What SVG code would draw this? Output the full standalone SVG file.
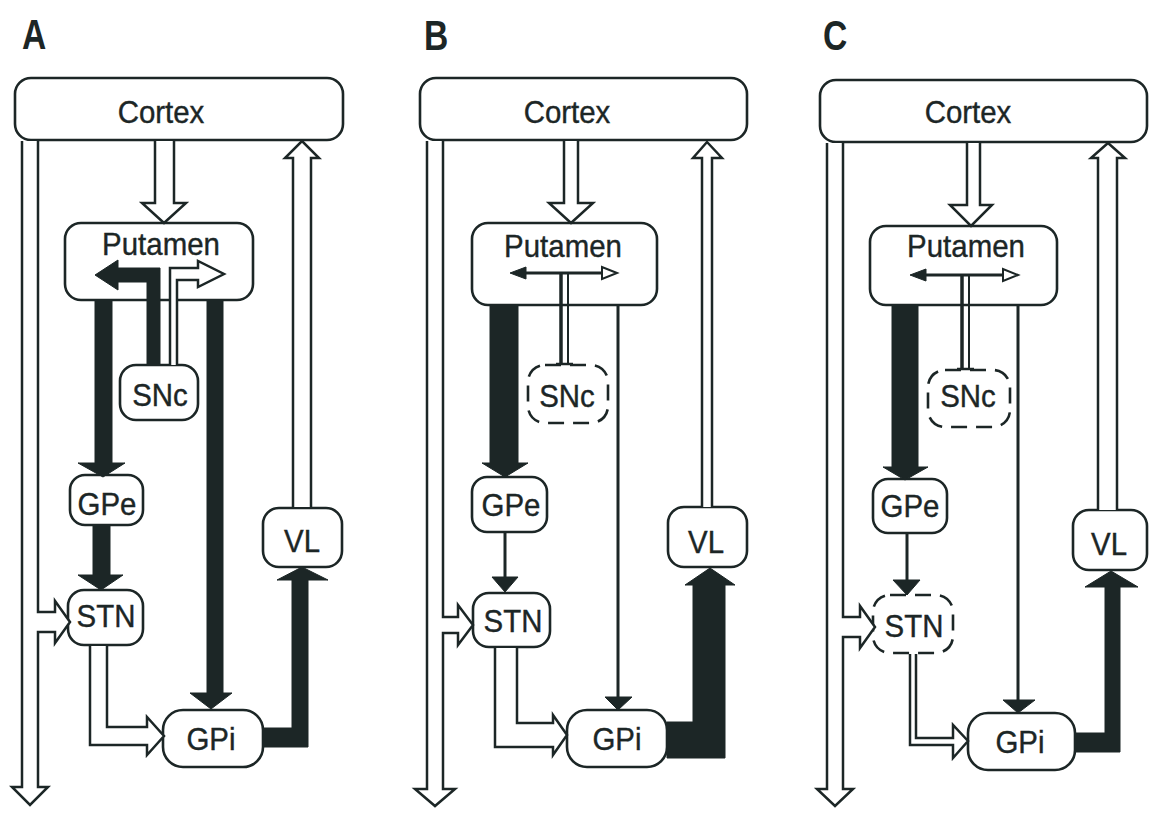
<svg xmlns="http://www.w3.org/2000/svg" width="1150" height="815" viewBox="0 0 1150 815">
<style>
.bg{fill:#fff}
.box{fill:#fff;stroke:#1c2626;stroke-width:2.6}
.dash{stroke-dasharray:16 9}
.lbl{font-family:"Liberation Sans",Arial,sans-serif;font-size:32px;fill:#1c2626;text-anchor:middle;stroke:#1c2626;stroke-width:0.4}
.pl{font-family:"Liberation Sans",Arial,sans-serif;font-size:42px;font-weight:bold;fill:#1c2626}
.hol{fill:#fff;stroke:#1c2626;stroke-width:2.5;stroke-linejoin:miter}
.sol{fill:#1c2626;stroke:#1c2626;stroke-width:1}
.thin{stroke:#1c2626;stroke-width:3;fill:none}
.th2{stroke:#1c2626;stroke-width:2;fill:none}
.hh{fill:#fff;stroke:#1c2626;stroke-width:2}
</style>
<rect class="bg" x="0" y="0" width="1150" height="815"/>
<g id="panel-labels">
<text class="pl" transform="translate(22,49) scale(0.8,1)">A</text>
<text class="pl" transform="translate(424,50) scale(0.8,1)">B</text>
<text class="pl" transform="translate(823,50) scale(0.8,1)">C</text>
</g>
<!-- Panel A nodes -->
<g id="A-cortex"><rect class="box" x="15" y="78" width="328" height="62" rx="16"/><text class="lbl" transform="translate(161,123) scale(0.92,1)">Cortex</text></g>
<g id="A-putamen"><rect class="box" x="65" y="223" width="188" height="77" rx="16"/><text class="lbl" transform="translate(161,255) scale(0.92,1)">Putamen</text></g>
<g id="A-snc"><rect class="box" x="120" y="365" width="78" height="55" rx="16"/><text class="lbl" transform="translate(160,406) scale(0.92,1)">SNc</text></g>
<g id="A-gpe"><rect class="box" x="70" y="475" width="73" height="50" rx="15"/><text class="lbl" transform="translate(107,515) scale(0.92,1)">GPe</text></g>
<g id="A-stn"><rect class="box" x="68" y="590" width="75" height="55" rx="16"/><text class="lbl" transform="translate(106,627) scale(0.92,1)">STN</text></g>
<g id="A-gpi"><rect class="box" x="163" y="710" width="100" height="57" rx="20"/><text class="lbl" transform="translate(211,750) scale(0.92,1)">GPi</text></g>
<g id="A-vl"><rect class="box" x="263" y="508" width="79" height="59" rx="16"/><text class="lbl" transform="translate(302,552) scale(0.92,1)">VL</text></g>
<!-- Panel B nodes -->
<g id="B-cortex"><rect class="box" x="420" y="78" width="327" height="62" rx="16"/><text class="lbl" transform="translate(567,123) scale(0.92,1)">Cortex</text></g>
<g id="B-putamen"><rect class="box" x="472" y="223" width="185" height="82" rx="16"/><text class="lbl" transform="translate(563,257) scale(0.92,1)">Putamen</text></g>
<g id="B-snc"><rect class="box dash" x="528" y="365" width="80" height="58" rx="17"/><text class="lbl" transform="translate(567,407) scale(0.92,1)">SNc</text></g>
<g id="B-gpe"><rect class="box" x="472" y="477" width="75" height="55" rx="15"/><text class="lbl" transform="translate(511,516) scale(0.92,1)">GPe</text></g>
<g id="B-stn"><rect class="box" x="473" y="593" width="77" height="54" rx="16"/><text class="lbl" transform="translate(513,632) scale(0.92,1)">STN</text></g>
<g id="B-gpi"><rect class="box" x="567" y="710" width="100" height="57" rx="20"/><text class="lbl" transform="translate(617,750) scale(0.92,1)">GPi</text></g>
<g id="B-vl"><rect class="box" x="668" y="507" width="79" height="60" rx="16"/><text class="lbl" transform="translate(706,553) scale(0.92,1)">VL</text></g>
<!-- Panel C nodes -->
<g id="C-cortex"><rect class="box" x="820" y="80" width="327" height="62" rx="16"/><text class="lbl" transform="translate(968,123) scale(0.92,1)">Cortex</text></g>
<g id="C-putamen"><rect class="box" x="870" y="226" width="187" height="79" rx="16"/><text class="lbl" transform="translate(966,257) scale(0.92,1)">Putamen</text></g>
<g id="C-snc"><rect class="box dash" x="928" y="370" width="82" height="57" rx="17"/><text class="lbl" transform="translate(968,407) scale(0.92,1)">SNc</text></g>
<g id="C-gpe"><rect class="box" x="873" y="479" width="74" height="54" rx="15"/><text class="lbl" transform="translate(910,517) scale(0.92,1)">GPe</text></g>
<g id="C-stn"><rect class="box dash" x="873" y="595" width="80" height="58" rx="17"/><text class="lbl" transform="translate(914,637) scale(0.92,1)">STN</text></g>
<g id="C-gpi"><rect class="box" x="968" y="713" width="107" height="57" rx="20"/><text class="lbl" transform="translate(1020,753) scale(0.92,1)">GPi</text></g>
<g id="C-vl"><rect class="box" x="1073" y="510" width="74" height="60" rx="16"/><text class="lbl" transform="translate(1109,555) scale(0.92,1)">VL</text></g>
<g id="connectors">
<!-- Panel A -->
<path class="hol" d="M22,141 V787 H12 L30,805 L48,787 H38 V632 H55 V643 L70,622 L55,601 V612 H38 V141"/>
<path class="hol" d="M155,141 V203 H142 L164,223 L186,203 H174 V141"/>
<path class="hol" d="M293,507 V158 H285 L302,141 L319,158 H311 V507"/>
<path class="hol" d="M90,646 V745 H147 V755 L164,736 L147,717 V727 H107 V646"/>
<path class="hol" d="M170,365 V268 H198 V261 L224,274 L198,287 V280 H177 V365"/>
<polygon class="sol" points="147,365 147,282 118,282 118,290 95,275 118,260 118,268 160,268 160,365"/>
<polygon class="sol" points="95,301 95,463 78,463 103,477 125,463 112,463 112,301"/>
<polygon class="sol" points="93,525 93,575 78,575 101,590 123,575 110,575 110,525"/>
<polygon class="sol" points="207,301 207,693 190,693 211,709 232,693 223,693 223,301"/>
<polygon class="sol" points="263,728 292,728 292,580 277,580 302,567 328,580 308,580 308,747 263,747"/>
<!-- Panel B -->
<path class="hol" d="M427,141 V789 H415 L435,806 L455,789 H443 V633 H458 V645 L473,625 L458,605 V617 H443 V141"/>
<path class="hol" d="M564,141 V203 H549 L571,223 L593,203 H578 V141"/>
<path class="hol" d="M702,507 V158 H693 L707,142 L722,158 H712 V507"/>
<path class="hol" d="M495,648 V747 H553 V755 L567,735 L553,715 V723 H517 V648"/>
<line class="thin" x1="524" y1="273" x2="603" y2="273"/>
<polygon class="sol" points="510,273 526,267 526,279"/>
<polygon class="hh" points="617,273 602,267 602,279"/>
<line class="thin" x1="561" y1="273" x2="561" y2="364" style="stroke-width:3.5"/>
<line class="th2" x1="568" y1="273" x2="568" y2="364"/>
<line class="thin" x1="556" y1="364" x2="573" y2="364" style="stroke-width:2.5"/>
<polygon class="sol" points="490,306 490,463 482,463 505,477 528,463 518,463 518,306"/>
<line class="thin" x1="505" y1="533" x2="505" y2="578"/>
<polygon class="sol" points="492,577 518,577 505,592"/>
<line class="thin" x1="618" y1="306" x2="618" y2="698"/>
<polygon class="sol" points="605,697 632,697 618,710"/>
<polygon class="sol" points="667,722 693,722 693,585 685,585 710,568 735,585 725,585 725,758 667,758"/>
<!-- Panel C -->
<path class="hol" d="M827,143 V789 H817 L835,806 L853,789 H843 V637 H860 V648 L875,627 L860,606 V617 H843 V143"/>
<path class="hol" d="M967,143 V205 H950 L971,226 L992,205 H980 V143"/>
<path class="hol" d="M1098,510 V158 H1091 L1108,143 L1125,158 H1117 V510"/>
<path class="hol" d="M910,654 V745 H953 V758 L968,741 L953,725 V738 H916 V654"/>
<line class="thin" x1="925" y1="275" x2="1004" y2="275"/>
<polygon class="sol" points="910,275 926,269 926,281"/>
<polygon class="hh" points="1018,275 1003,269 1003,281"/>
<line class="thin" x1="962" y1="275" x2="962" y2="368" style="stroke-width:3.5"/>
<line class="th2" x1="969" y1="275" x2="969" y2="368"/>
<line class="thin" x1="957" y1="369" x2="974" y2="369" style="stroke-width:2.5"/>
<polygon class="sol" points="892,306 892,467 883,467 905,480 928,467 918,467 918,306"/>
<line class="thin" x1="907" y1="534" x2="907" y2="581"/>
<polygon class="sol" points="893,580 920,580 907,595"/>
<line class="thin" x1="1018" y1="306" x2="1018" y2="701"/>
<polygon class="sol" points="1003,700 1035,700 1018,713"/>
<polygon class="sol" points="1075,733 1105,733 1105,587 1085,587 1111,571 1138,587 1120,587 1120,752 1075,752"/>
</g>
</svg>
